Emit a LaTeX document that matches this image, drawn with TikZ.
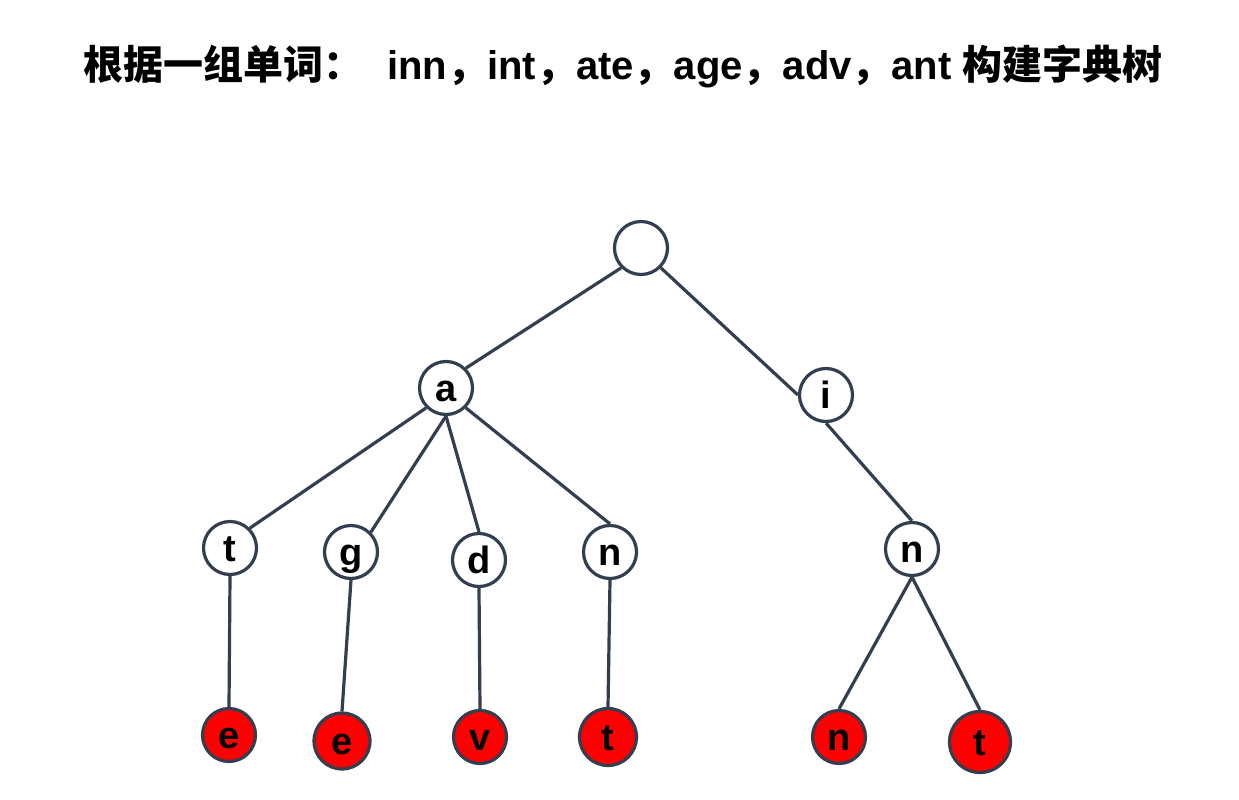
\documentclass[tikz,border=0pt]{standalone}
\usepackage{fontspec}
\setmainfont{Liberation Sans}
\newfontfamily\cjk{Noto Sans CJK SC}
\definecolor{edgec}{HTML}{333F50}
\definecolor{leafred}{HTML}{FF0000}
\tikzset{
  tnode/.style={circle, draw=edgec, line width=3.2pt, fill=white, minimum size=53pt, inner sep=0pt,
    font=\fontsize{38}{40}\selectfont\bfseries, text height=26pt, text depth=0pt},
  leaf/.style={tnode, fill=leafred},
  edge/.style={draw=edgec, line width=3.2pt}
}
\begin{document}
\begin{tikzpicture}[x=1pt, y=-1pt]
\useasboundingbox (0,0) rectangle (1239,800);
\node[anchor=base west, inner sep=0pt, font=\fontsize{40}{44}\selectfont\bfseries] (title) at (83,79)
  {{\cjk 根据一组单词：}\hspace{24pt}inn{\cjk ，}int{\cjk ，}ate{\cjk ，}age{\cjk ，}adv{\cjk ，}ant {\cjk 构建字典树}};
\node[tnode] (root) at (641,248) {};
\node[tnode] (a) at (446,388) {a};
\node[tnode] (i) at (826,395) {i};
\node[tnode] (t) at (230,548) {t};
\node[tnode] (g) at (351,552) {g};
\node[tnode] (d) at (479,560) {d};
\node[tnode] (n1) at (610,552) {n};
\node[tnode] (n2) at (912,549) {n};
\node[leaf] (e1) at (229,735) {e};
\node[leaf, minimum size=56pt] (e2) at (342,741) {e};
\node[leaf] (v) at (480,737) {v};
\node[leaf, minimum size=57pt] (t1) at (608,737) {t};
\node[leaf] (n3) at (839,737) {n};
\node[leaf, minimum size=61pt] (t2) at (980,742) {t};
\draw[edge] (root.south west) -- (a.north east);
\draw[edge] (root.south east) -- (i.west);
\draw[edge] (a.south west) -- (t.north east);
\draw[edge] (a.south) -- (g.north east);
\draw[edge] (a.south) -- (d.north);
\draw[edge] (a.south east) -- (n1.north);
\draw[edge] (i.south) -- (n2.north);
\draw[edge] (t.south) -- (e1.north);
\draw[edge] (g.south) -- (e2.north);
\draw[edge] (d.south) -- (v.north);
\draw[edge] (n1.south) -- (t1.north);
\draw[edge] (n2.south) -- (n3.north);
\draw[edge] (n2.south) -- (t2.north);
\end{tikzpicture}
\end{document}
